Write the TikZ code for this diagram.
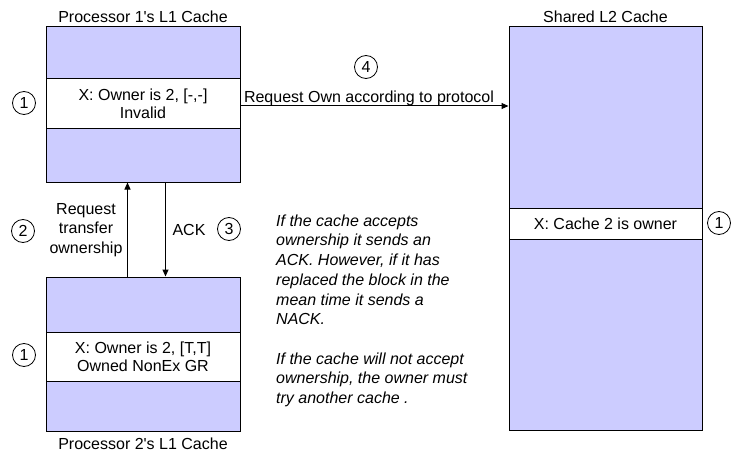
\documentclass[tikz,border=0pt]{standalone}
\usepackage{fontspec}
\setmainfont{Liberation Sans}
\usetikzlibrary{arrows.meta,calc}
\definecolor{cachefill}{RGB}{204,204,255}
\tikzset{
  cachebox/.style={draw=black, line width=1pt, fill=cachefill, minimum width=194pt, inner sep=0pt},
  rowbox/.style={draw=black, line width=1pt, fill=white, minimum width=194pt, inner sep=0pt, align=center, font=\fontsize{16}{18}\selectfont},
  title/.style={anchor=base, inner sep=0pt, font=\fontsize{16}{18}\selectfont},
  num/.style={draw=black, line width=0.8pt, circle, minimum size=23pt, inner sep=0pt, font=\fontsize{16}{18}\selectfont},
  lbl/.style={inner sep=0pt, align=center, font=\fontsize{16}{19.5}\selectfont},
  arr/.style={draw=black, line width=1pt, -{Triangle[length=7pt,width=6pt]}}
}
\begin{document}
\begin{tikzpicture}[x=1pt,y=-1pt]
\useasboundingbox (0,0) rectangle (732,452);
% Processor 1
\node[cachebox, minimum height=155pt] (P1) at (143,104.5) {};
\node[rowbox, minimum height=50pt] (R1) at (143,104) {X: Owner is 2, [-,-]\\Invalid};
\node[title] (T1) at (143,22.5) {Processor 1\textquotesingle s L1 Cache};
% Processor 2
\node[cachebox, minimum height=154pt] (P2) at (143,354) {};
\node[rowbox, minimum height=49pt] (R2) at (143,356.5) {X: Owner is 2, [T,T]\\Owned NonEx GR};
\node[title] (T2) at (143,449) {Processor 2\textquotesingle s L1 Cache};
% Shared L2
\node[cachebox, minimum width=193pt, minimum height=403pt] (L2) at (605.5,228.5) {};
\node[rowbox, minimum width=193pt, minimum height=31pt] (R3) at (605.5,223.5) {X: Cache 2 is owner};
\node[title] (T3) at (605.5,22.5) {Shared L2 Cache};
% arrows
\draw[arr] ($(P2.north west)+(82,0)$) -- ($(P1.south west)+(82,0)$);
\draw[arr] ($(P1.south west)+(120,0)$) -- ($(P2.north west)+(120,0)$);
\draw[arr] ($(R1.east)+(0,2)$) -- ($(L2.west|-R1.east)+(0,2)$);
% labels
\node[lbl] (L2lbl) at (86,230) {Request\\transfer\\ownership};
\node[lbl] (ACKlbl) at (189,230) {ACK};
\node[lbl, anchor=base] (L4lbl) at (369,102.5) {Request Own according to protocol};
% numbers
\node[num] (c1a) at (24,103) {1};
\node[num] (c1b) at (24,355) {1};
\node[num] (c1c) at (719,223) {1};
\node[num] (c2) at (23,231) {2};
\node[num] (c3) at (229,229) {3};
\node[num] (c4) at (366,67) {4};
% note
\node[anchor=north west, inner sep=0pt, align=left, font=\fontsize{16}{19.7}\selectfont\itshape] (note) at (276,214.5)
{If the cache accepts\\ownership it sends an\\ACK. However, if it has\\replaced the block in the\\mean time it sends a\\NACK.\\[19.7pt]If the cache will not accept\\ownership, the owner must\\try another cache .};
\end{tikzpicture}
\end{document}
